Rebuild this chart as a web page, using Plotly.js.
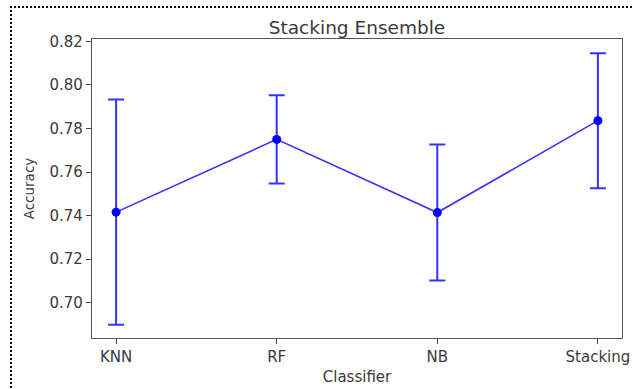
<!DOCTYPE html>
<html>
<head>
<meta charset="utf-8">
<script src="https://cdn.plot.ly/plotly-3.0.1.min.js"></script>
<style>
  html, body { margin: 0; padding: 0; background: #fff; }
  #wrap { position: relative; width: 632px; height: 389px; overflow: hidden; }
  #frame { position: absolute; left: 10px; top: 6px; width: 640px; height: 400px;
           border-left: 2px dotted #000; border-top: 2px dotted #000; pointer-events: none; }
  #chart { position: absolute; left: 0; top: 0; width: 632px; height: 389px; }
</style>
</head>
<body>
<div id="wrap">
  <div id="frame"></div>
  <div id="chart"></div>
</div>
<script>
const classifiers = ["KNN", "RF", "NB", "Stacking"];
const accuracy = [0.7416, 0.7750, 0.7414, 0.7836];
const accuracyStd = [0.0517, 0.0203, 0.0312, 0.0310];
const yTicks = [0.70, 0.72, 0.74, 0.76, 0.78, 0.80, 0.82];

const textColor = "#3a3a3a";
const font = { family: "DejaVu Sans", size: 15, color: textColor };

const trace = {
  x: classifiers,
  y: accuracy,
  type: "scatter",
  mode: "lines+markers",
  line: { color: "rgba(0,0,255,0.8)", width: 1.6 },
  marker: { color: "#0000ff", size: 9 },
  error_y: {
    type: "data",
    array: accuracyStd,
    visible: true,
    color: "rgba(0,0,255,0.8)",
    thickness: 2,
    width: 8
  },
  hoverinfo: "skip"
};

const layout = {
  width: 632,
  height: 389,
  margin: { l: 92, r: 10, t: 39, b: 51, pad: 0 },
  paper_bgcolor: "rgba(0,0,0,0)",
  plot_bgcolor: "#ffffff",
  showlegend: false,
  font: font,
  title: {
    text: "Stacking Ensemble",
    font: { family: "DejaVu Sans", size: 18.5, color: textColor },
    x: 0.5, xref: "paper", xanchor: "center",
    y: 1, yref: "paper", yanchor: "bottom",
    pad: { b: 5 }
  },
  xaxis: {
    type: "category",
    range: [-0.15, 3.15],
    showgrid: false,
    zeroline: false,
    showline: true,
    mirror: true,
    linecolor: "#555555",
    linewidth: 1.2,
    ticks: "outside",
    ticklen: 5,
    tickwidth: 1,
    tickcolor: "#444444",
    tickfont: font,
    title: { text: "Classifier", font: font, standoff: 6 }
  },
  yaxis: {
    range: [0.6838, 0.8211],
    tickvals: yTicks,
    ticktext: yTicks.map(v => v.toFixed(2)),
    showgrid: false,
    zeroline: false,
    showline: true,
    mirror: true,
    linecolor: "#555555",
    linewidth: 1.2,
    ticks: "outside",
    ticklen: 5,
    tickwidth: 1,
    tickcolor: "#444444",
    tickfont: font,
    title: { text: "Accuracy", font: { family: "DejaVu Sans", size: 13.5, color: textColor }, standoff: 11 }
  }
};

Plotly.newPlot("chart", [trace], layout, { staticPlot: true, displayModeBar: false });
</script>
</body>
</html>
